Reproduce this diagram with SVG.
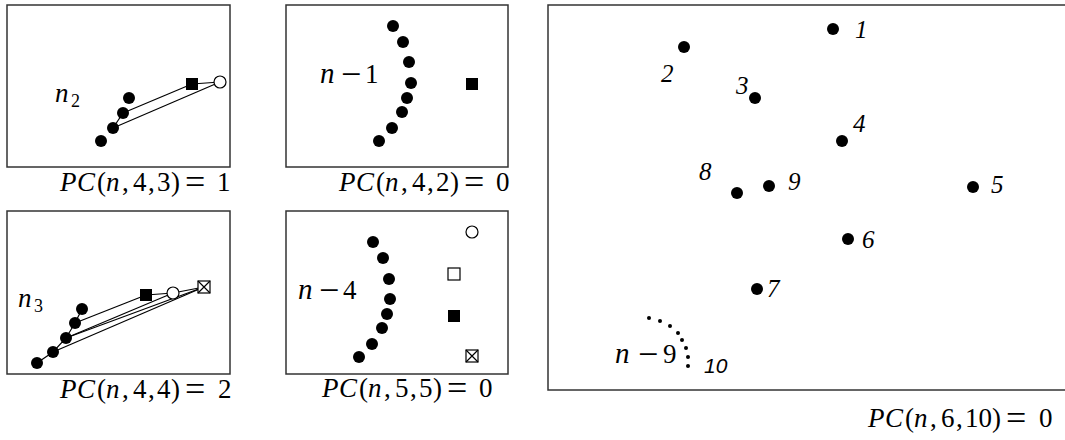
<svg xmlns="http://www.w3.org/2000/svg" width="1065" height="440" viewBox="0 0 1065 440">
<defs>
<style>
.frame{fill:none;stroke:#333;stroke-width:1.5}
.dot{fill:#000}
.sdot{fill:#000}
.osq{fill:#fff;stroke:#000;stroke-width:1.2}
.fsq{fill:#000}
.ocir{fill:#fff;stroke:#000;stroke-width:1.2}
.ln{stroke:#000;stroke-width:1.2;fill:none}
text{font-family:'Liberation Serif','Times New Roman',serif;fill:#000}
.m{font-size:27px}
.i{font-style:italic}
.sub{font-size:18px}
.num{font-style:italic;font-size:25px}
.ten{font-family:'Liberation Sans',Arial,sans-serif;font-style:italic;font-size:21px}
.eq{font-size:36px}
.mi{font-size:36px}
</style>
<g id="xbox"><rect x="-6" y="-6" width="12" height="12" class="osq"/><path d="M-6,-6L6,6M6,-6L-6,6" class="ln" stroke-width="0.9"/></g>
</defs>
<rect width="1065" height="440" fill="#fff"/>

<g id="connectors">
<line x1="123" y1="113" x2="192" y2="84" class="ln"/>
<line x1="113" y1="128" x2="220" y2="82" class="ln"/>
<line x1="192" y1="84" x2="220" y2="82" class="ln"/>
<line x1="123" y1="113" x2="113" y2="128" class="ln"/>
<line x1="75" y1="323" x2="146" y2="295" class="ln"/>
<line x1="66" y1="338" x2="173" y2="293" class="ln"/>
<line x1="66" y1="338" x2="204" y2="287" class="ln"/>
<line x1="53" y1="352" x2="204" y2="287" class="ln"/>
<line x1="146" y1="295" x2="173" y2="293" class="ln"/>
<line x1="173" y1="293" x2="204" y2="287" class="ln"/>
<polyline points="82,309 75,323 66,338 53,352 37,363" class="ln"/>
</g>

<g id="panel1">
<rect x="7" y="5" width="223" height="162" class="frame"/>
<circle cx="129" cy="98" r="6" class="dot"/>
<circle cx="123" cy="113" r="6" class="dot"/>
<circle cx="113" cy="128" r="6" class="dot"/>
<circle cx="101" cy="141" r="6" class="dot"/>
<rect x="186" y="78" width="12" height="12" class="fsq"/>
<circle cx="220" cy="82" r="6" class="ocir"/>
<text x="55" y="102" class="m i" font-size="29">n</text><text x="71" y="107" class="sub">2</text>
<text y="191" class="m"><tspan x="60" class="i">P</tspan><tspan x="77" class="i">C</tspan><tspan x="97">(</tspan><tspan x="106" class="i">n</tspan><tspan x="122">,</tspan><tspan x="133">4</tspan><tspan x="148">,</tspan><tspan x="157">3</tspan><tspan x="171">)</tspan><tspan x="185" class="eq" dy="3">=</tspan><tspan x="217" dy="-3">1</tspan></text>
</g>

<g id="panel2">
<rect x="286" y="5" width="222" height="162" class="frame"/>
<circle cx="393" cy="26" r="6" class="dot"/>
<circle cx="403" cy="42" r="6" class="dot"/>
<circle cx="409" cy="62" r="6" class="dot"/>
<circle cx="411" cy="83" r="6" class="dot"/>
<circle cx="407" cy="98" r="6" class="dot"/>
<circle cx="402" cy="112" r="6" class="dot"/>
<circle cx="392" cy="128" r="6" class="dot"/>
<circle cx="379" cy="141" r="6" class="dot"/>
<rect x="466" y="78" width="12" height="12" class="fsq"/>
<text y="83" class="m"><tspan x="320" class="i" font-size="29">n</tspan><tspan x="341" class="mi" dy="3">−</tspan><tspan x="365" dy="-3">1</tspan></text>
<text y="191" class="m"><tspan x="339" class="i">P</tspan><tspan x="356" class="i">C</tspan><tspan x="376">(</tspan><tspan x="385" class="i">n</tspan><tspan x="401">,</tspan><tspan x="412">4</tspan><tspan x="427">,</tspan><tspan x="436">2</tspan><tspan x="450">)</tspan><tspan x="464" class="eq" dy="3">=</tspan><tspan x="496" dy="-3">0</tspan></text>
</g>

<g id="panel3">
<rect x="7" y="211" width="223" height="163" class="frame"/>
<circle cx="82" cy="309" r="6" class="dot"/>
<circle cx="75" cy="323" r="6" class="dot"/>
<circle cx="66" cy="338" r="6" class="dot"/>
<circle cx="53" cy="352" r="6" class="dot"/>
<circle cx="37" cy="363" r="6" class="dot"/>
<rect x="140" y="289" width="12" height="12" class="fsq"/>
<circle cx="173" cy="293" r="6" class="ocir"/>
<use href="#xbox" x="204" y="287"/>
<text x="18" y="307" class="m i" font-size="29">n</text><text x="34" y="312" class="sub">3</text>
<text y="398" class="m"><tspan x="60" class="i">P</tspan><tspan x="77" class="i">C</tspan><tspan x="97">(</tspan><tspan x="106" class="i">n</tspan><tspan x="122">,</tspan><tspan x="133">4</tspan><tspan x="148">,</tspan><tspan x="157">4</tspan><tspan x="171">)</tspan><tspan x="185" class="eq" dy="3">=</tspan><tspan x="218" dy="-3">2</tspan></text>
</g>

<g id="panel4">
<rect x="286" y="211" width="222" height="163" class="frame"/>
<circle cx="373" cy="242" r="6" class="dot"/>
<circle cx="383" cy="258" r="6" class="dot"/>
<circle cx="389" cy="279" r="6" class="dot"/>
<circle cx="390" cy="299" r="6" class="dot"/>
<circle cx="387" cy="314" r="6" class="dot"/>
<circle cx="382" cy="328" r="6" class="dot"/>
<circle cx="372" cy="344" r="6" class="dot"/>
<circle cx="359" cy="357" r="6" class="dot"/>
<circle cx="472" cy="232" r="6" class="ocir"/>
<rect x="448" y="268" width="12" height="12" class="osq"/>
<rect x="448" y="310" width="12" height="12" class="fsq"/>
<use href="#xbox" x="472" y="356"/>
<text y="299" class="m"><tspan x="298" class="i" font-size="29">n</tspan><tspan x="319" class="mi" dy="3">−</tspan><tspan x="343" dy="-3">4</tspan></text>
<text y="397" class="m"><tspan x="322" class="i">P</tspan><tspan x="339" class="i">C</tspan><tspan x="359">(</tspan><tspan x="368" class="i">n</tspan><tspan x="384">,</tspan><tspan x="395">5</tspan><tspan x="410">,</tspan><tspan x="419">5</tspan><tspan x="433">)</tspan><tspan x="447" class="eq" dy="3">=</tspan><tspan x="479" dy="-3">0</tspan></text>
</g>

<g id="panel5">
<rect x="548" y="5" width="530" height="385" class="frame"/>
<circle cx="833" cy="29" r="6" class="dot"/><text x="855" y="38" class="num">1</text>
<circle cx="684" cy="47" r="6" class="dot"/><text x="661" y="82" class="num">2</text>
<circle cx="755" cy="98" r="6" class="dot"/><text x="736" y="94" class="num">3</text>
<circle cx="842" cy="141" r="6" class="dot"/><text x="853" y="132" class="num">4</text>
<circle cx="973" cy="187" r="6" class="dot"/><text x="991" y="193" class="num">5</text>
<circle cx="848" cy="239" r="6" class="dot"/><text x="862" y="248" class="num">6</text>
<circle cx="757" cy="289" r="6" class="dot"/><text x="767" y="297" class="num">7</text>
<circle cx="737" cy="193" r="6" class="dot"/><text x="699" y="180" class="num">8</text>
<circle cx="769" cy="186" r="6" class="dot"/><text x="788" y="190" class="num">9</text>
<circle cx="649" cy="318" r="2" class="sdot"/>
<circle cx="660" cy="321" r="2" class="sdot"/>
<circle cx="670" cy="326" r="2" class="sdot"/>
<circle cx="678" cy="333" r="2" class="sdot"/>
<circle cx="682" cy="340" r="2" class="sdot"/>
<circle cx="686" cy="348" r="2" class="sdot"/>
<circle cx="688" cy="357" r="2" class="sdot"/>
<circle cx="688" cy="366" r="2" class="sdot"/>
<text y="363" class="m"><tspan x="615" class="i" font-size="29">n</tspan><tspan x="638" class="mi" dy="3">−</tspan><tspan x="663" dy="-3">9</tspan></text>
<text x="704" y="373" class="ten">10</text>
<text y="427" class="m"><tspan x="868" class="i">P</tspan><tspan x="885" class="i">C</tspan><tspan x="905">(</tspan><tspan x="914" class="i">n</tspan><tspan x="930">,</tspan><tspan x="941">6</tspan><tspan x="956">,</tspan><tspan x="965">10</tspan><tspan x="992">)</tspan><tspan x="1006" class="eq" dy="3">=</tspan><tspan x="1039" dy="-3">0</tspan></text>
</g>
</svg>
